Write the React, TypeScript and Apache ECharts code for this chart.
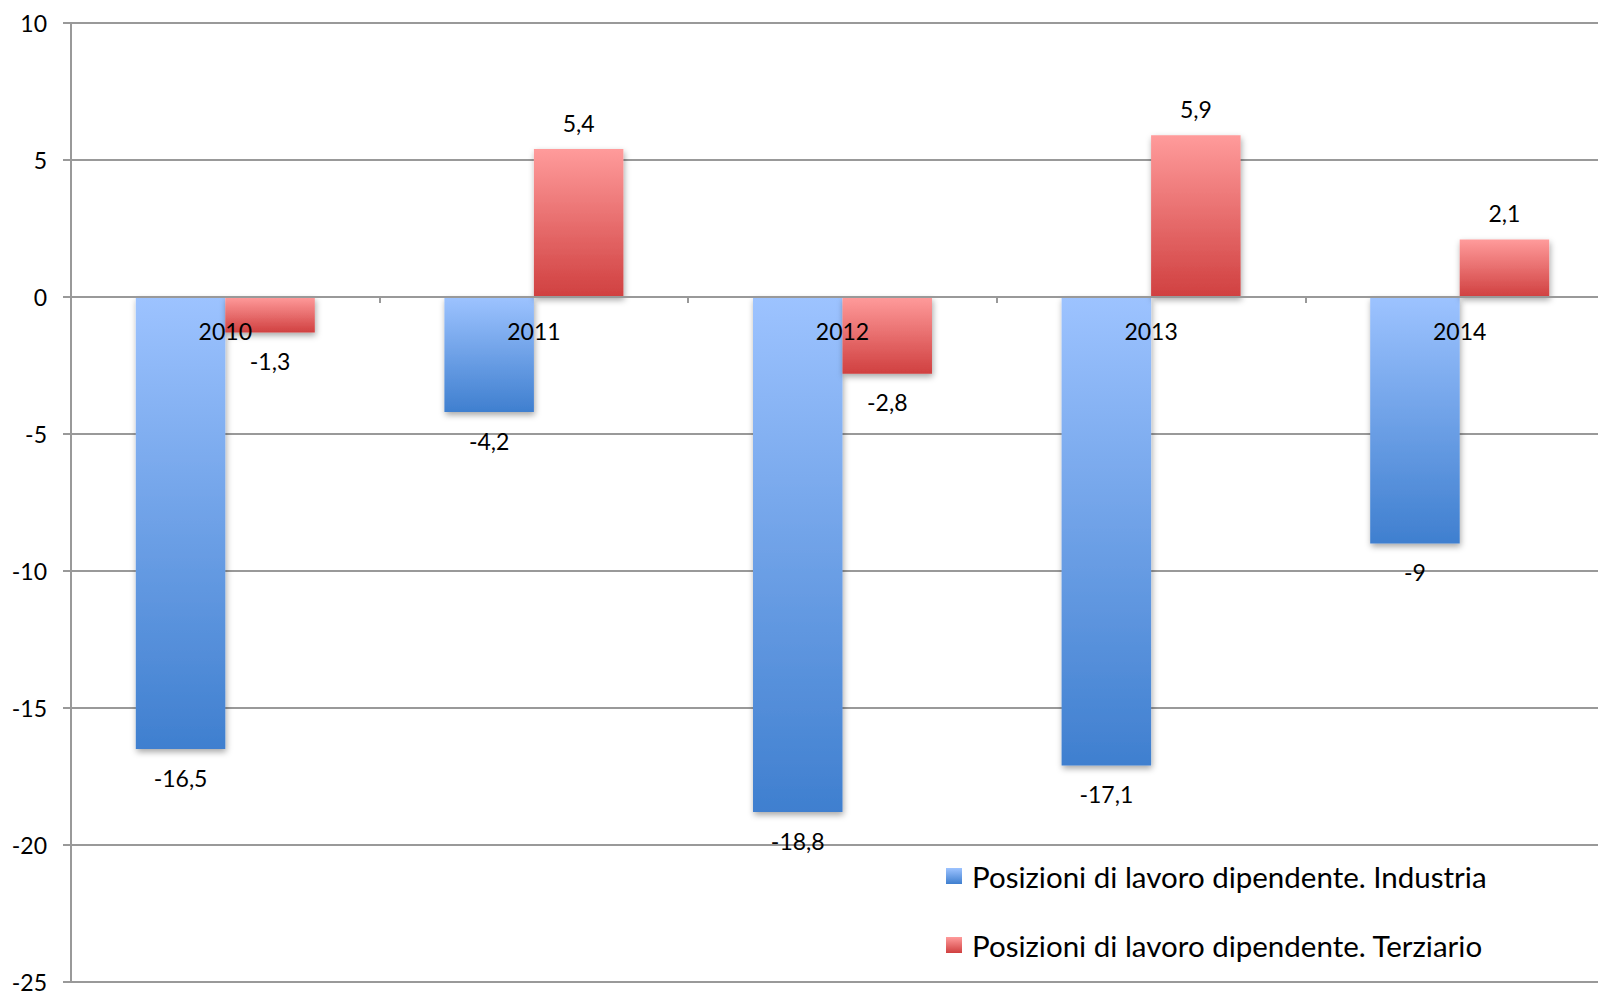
import React, { useEffect, useRef } from "react";
import * as echarts from "echarts";

const years = ["2010", "2011", "2012", "2013", "2014"];
const industria = [-16.5, -4.2, -18.8, -17.1, -9];
const terziario = [-1.3, 5.4, -2.8, 5.9, 2.1];
const yTicks = { min: -25, max: 10, interval: 5 };
const seriesNames = [
  "Posizioni di lavoro dipendente. Industria",
  "Posizioni di lavoro dipendente. Terziario",
];

const FONT = "Lato, 'Open Sans', sans-serif";

// plot box, in pixels
const PLOT = { left: 71, top: 23, bottom: 9, right: -16 };
const HEIGHT = 991;

const gradient = (top: string, bottom: string) => ({
  type: "linear",
  x: 0,
  y: 0,
  x2: 0,
  y2: 1,
  colorStops: [
    { offset: 0, color: top },
    { offset: 1, color: bottom },
  ],
});

const withLabelSide = (values: number[]) =>
  values.map((v) => ({
    value: v,
    label: { position: v < 0 ? "bottom" : "top", distance: v < 0 ? 17 : 15 },
  }));

export default function App() {
  const ref = useRef<HTMLDivElement>(null);

  useEffect(() => {
    if (!ref.current) return;
    const chart = echarts.init(ref.current, undefined, { renderer: "svg" });

    // the category axis sits on the zero line: lift it from the bottom edge
    const plotH = HEIGHT - PLOT.top - PLOT.bottom;
    const zeroOffset = -((0 - yTicks.min) / (yTicks.max - yTicks.min)) * plotH;

    const label = {
      show: true,
      color: "#000",
      fontSize: 23,
      fontFamily: FONT,
      formatter: (p: any) => String(p.value).replace(".", ","),
    };
    const shadow = {
      shadowColor: "rgba(0,0,0,0.35)",
      shadowBlur: 6,
      shadowOffsetX: 1,
      shadowOffsetY: 3,
    };

    chart.setOption({
      animation: false,
      backgroundColor: "#fff",
      grid: { ...PLOT, containLabel: false, outerBoundsMode: "none" },
      legend: {
        orient: "vertical",
        left: 941,
        top: 856,
        itemWidth: 16,
        itemHeight: 16,
        itemGap: 39,
        icon: "rect",
        textStyle: {
          color: "#000",
          fontSize: 29.5,
          fontFamily: FONT,
          padding: [0, 0, 0, 5],
        },
        data: seriesNames,
      },
      xAxis: {
        type: "category",
        data: years,
        z: 10,
        offset: zeroOffset,
        axisLine: { onZero: false, lineStyle: { color: "#999", width: 2 } },
        axisTick: { show: true, length: 6, alignWithLabel: false, lineStyle: { color: "#999", width: 2 } },
        axisLabel: { color: "#000", fontSize: 23, fontFamily: FONT, margin: 22 },
        splitLine: { show: false },
      },
      yAxis: {
        type: "value",
        min: yTicks.min,
        max: yTicks.max,
        interval: yTicks.interval,
        axisLine: { show: true, lineStyle: { color: "#999", width: 2 } },
        axisTick: { show: true, length: 8, lineStyle: { color: "#999", width: 2 } },
        axisLabel: { color: "#000", fontSize: 23, fontFamily: FONT, margin: 24 },
        splitLine: { show: true, lineStyle: { color: "#999", width: 2 } },
      },
      series: [
        {
          name: seriesNames[0],
          type: "bar",
          data: withLabelSide(industria),
          barGap: "0%",
          barCategoryGap: "42%",
          itemStyle: { color: gradient("#9dc3ff", "#3f7fcf"), ...shadow },
          label,
        },
        {
          name: seriesNames[1],
          type: "bar",
          data: withLabelSide(terziario),
          barGap: "0%",
          barCategoryGap: "42%",
          itemStyle: { color: gradient("#ff9b9b", "#d04040"), ...shadow },
          label,
        },
      ],
    });

    return () => chart.dispose();
  }, []);

  return (
    <div
      ref={ref}
      style={{ position: "fixed", left: 0, top: 0, width: 1598, height: HEIGHT }}
    />
  );
}
